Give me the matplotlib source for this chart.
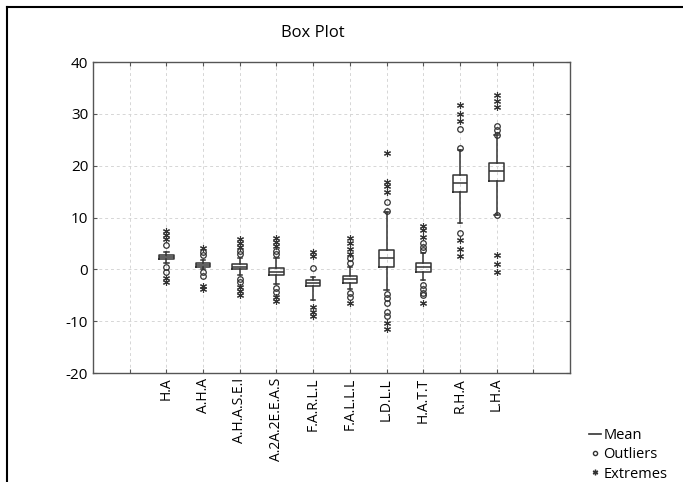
import matplotlib
matplotlib.use('Agg')
import matplotlib.pyplot as plt
from matplotlib.lines import Line2D
import numpy as np

plt.rcParams['font.family'] = ['Open Sans', 'DejaVu Sans']
plt.rcParams['axes.unicode_minus'] = False

categories = ['H.A', 'A.H.A', 'A.H.A.S.E.I', 'A.2A.2E.E.A.S', 'F.A.R.L.L',
              'F.A.L.L.L', 'L.D.L.L', 'H.A.T.T', 'R.H.A', 'L.H.A']
q1 = [1.9, 0.5, 0.0, -1.1, -3.2, -2.6, 0.5, -0.5, 15.0, 17.1]
med = [2.3, 0.9, 0.5, -0.5, -2.6, -1.9, 2.1, 0.4, 16.6, 19.0]
q3 = [2.8, 1.2, 1.1, 0.2, -2.1, -1.2, 3.8, 1.3, 18.2, 20.5]
whislo = [1.2, 0.0, -1.0, -2.8, -5.9, -3.8, -4.0, -2.0, 8.9, 10.5]
whishi = [3.4, 1.8, 2.2, 2.2, -1.4, 0.4, 11.0, 3.2, 23.0, 25.9]
outliers = [
    [4.6, 0.4, -0.5],
    [2.8, 3.4, -0.6, -1.2],
    [3.0, 3.6, -1.8, -2.5],
    [2.9, 3.5, -3.6, -4.3],
    [0.2],
    [1.3, 2.2, -4.6, -5.3],
    [11.2, 13.0, -4.8, -5.6, -6.4, -8.2, -9.0],
    [3.8, 4.4, 5.0, -3.0, -3.8, -4.5, -5.0],
    [23.5, 27.0, 7.0],
    [26.0, 26.9, 27.6, 10.5],
]
extremes = [
    [5.8, 6.6, 7.4, -1.6, -2.5],
    [4.2, -3.2, -3.8],
    [4.3, 5.0, 5.8, -3.5, -4.2, -5.0],
    [4.5, 5.2, 6.0, -5.3, -6.2],
    [2.6, 3.3, -7.3, -8.3, -9.0],
    [3.0, 4.0, 5.0, 6.0, -6.5],
    [15.0, 16.0, 16.9, 22.4, -10.3, -11.6],
    [6.2, 7.6, 8.4, -6.5],
    [28.6, 30.0, 31.8, 5.6, 4.0, 2.6],
    [31.4, 32.5, 33.6, 2.8, 1.0, -0.5],
]
yticks = [40, 30, 20, 10, 0, -10, -20]

fig = plt.figure(figsize=(6.83, 4.82), dpi=100)
ax = fig.add_axes([93/683, 1-373/482, 477/683, 311/482])

positions = np.arange(len(categories)) + 2
stats = []
for i, c in enumerate(categories):
    stats.append(dict(q1=q1[i], med=med[i], q3=q3[i], whislo=whislo[i],
                      whishi=whishi[i], fliers=[], label=c))

ec = '#333333'
ax.bxp(stats, positions=positions, widths=0.4, showfliers=False,
       boxprops=dict(color=ec, linewidth=1.1),
       medianprops=dict(color=ec, linewidth=1.1),
       whiskerprops=dict(color=ec, linewidth=1.1),
       capprops=dict(color=ec, linewidth=1.1), capwidths=0.12,
       manage_ticks=False)

for i, p in enumerate(positions):
    ax.plot([p]*len(outliers[i]), outliers[i], linestyle='none', marker='o',
            mfc='none', mec=ec, ms=4, mew=0.9, zorder=3)
    ax.plot([p]*len(extremes[i]), extremes[i], linestyle='none', marker=(6, 2, 0),
            mec=ec, ms=5, mew=0.8, zorder=3)

ax.set_xlim(0, 13)
ax.set_ylim(-20, 40)
ax.set_xticks(np.arange(1, 13))
ax.set_xticklabels([''] + categories + [''], rotation=90, fontsize=10)
ax.set_yticks(yticks)
ax.set_yticklabels([str(v) for v in yticks], fontsize=11)
ax.tick_params(direction='in', length=3, top=True, right=True, color='#555555')
ax.grid(True, linestyle=(0, (3, 3)), color='#d6d6d6', linewidth=0.7)
ax.set_axisbelow(True)
for s in ax.spines.values():
    s.set_color('#555555')
    s.set_linewidth(1.0)

fig.text(313/683, 1-33/482, 'Box Plot', ha='center', va='center', fontsize=12)

handles = [Line2D([], [], color=ec, linewidth=1.2),
           Line2D([], [], linestyle='none', marker='o', mfc='none', mec=ec, ms=3),
           Line2D([], [], linestyle='none', marker=(6, 2, 0), mec=ec, ms=4)]
fig.legend(handles, ['Mean', 'Outliers', 'Extremes'], loc='upper left',
           bbox_to_anchor=(583/683, 1-422/482), frameon=False, handlelength=0.8,
           handletextpad=0.2, labelspacing=0.3, fontsize=10.5, borderaxespad=0)

fig.add_artist(Line2D([7/683, 1], [1-7/482, 1-7/482], color='black', linewidth=1.5))
fig.add_artist(Line2D([7/683, 7/683], [0, 1-7/482], color='black', linewidth=1.5))

fig.savefig('out.png', dpi=100)
